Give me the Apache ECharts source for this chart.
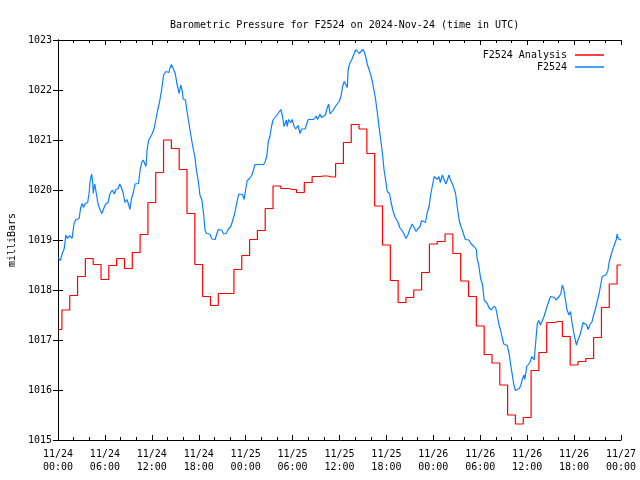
<!DOCTYPE html>
<html><head><meta charset="utf-8">
<script src="https://cdn.jsdelivr.net/npm/echarts@6/dist/echarts.min.js"></script>
<style>html,body{margin:0;padding:0;background:#fff}#c{width:640px;height:480px}</style>
</head><body><div id="c"></div>
<script>
// hours since 2024-11-24 00:00 UTC
const startUTC = Date.UTC(2024, 10, 24, 0, 0);
const analysisHours = [0,1,2,3,4,5,6,7,8,9,10,11,12,13,14,15,16,17,18,19,20,21,22,23,24,25,26,27,28,29,30,31,32,33,34,35,36,37,38,39,40,41,42,43,44,45,46,47,48,49,50,51,52,53,54,55,56,57,58,59,60,61,62,63,64,65,66,67,68,69,70,71,72];
const analysisValues = [1017.21,1017.60,1017.89,1018.27,1018.63,1018.51,1018.21,1018.49,1018.63,1018.43,1018.75,1019.11,1019.75,1020.35,1021.00,1020.83,1020.41,1019.53,1018.51,1017.87,1017.69,1017.93,1017.93,1018.41,1018.69,1019.01,1019.19,1019.63,1020.08,1020.03,1020.01,1019.95,1020.15,1020.27,1020.28,1020.26,1020.53,1020.95,1021.31,1021.22,1020.73,1019.68,1018.90,1018.19,1017.75,1017.85,1018.00,1018.35,1018.92,1018.97,1019.12,1018.73,1018.18,1017.87,1017.28,1016.71,1016.54,1016.10,1015.50,1015.32,1015.45,1016.39,1016.75,1017.35,1017.37,1017.07,1016.50,1016.57,1016.63,1017.05,1017.65,1018.12,1018.50];
const obsHours = [0.0,0.3,0.55,0.8,1.0,1.2,1.5,1.8,2.05,2.3,2.7,2.9,3.1,3.25,3.5,3.8,4.0,4.1,4.3,4.45,4.5,4.7,4.9,5.15,5.4,5.6,5.8,6.1,6.4,6.65,6.95,7.2,7.4,7.7,7.9,8.15,8.35,8.55,8.8,9.0,9.2,9.4,9.6,9.85,10.05,10.3,10.5,10.7,10.9,11.1,11.25,11.4,11.6,12.0,12.3,12.5,12.75,12.95,13.25,13.5,13.8,14.0,14.2,14.3,14.5,14.75,15.0,15.2,15.4,15.5,15.7,15.9,16.0,16.3,16.5,16.75,16.95,17.2,17.5,17.7,17.95,18.15,18.4,18.6,18.8,19.0,19.4,19.7,20.1,20.3,20.5,20.9,21.2,21.5,21.8,22.1,22.3,22.55,22.75,23.0,23.15,23.6,23.8,24.0,24.2,24.5,24.8,25.0,25.2,25.8,26.3,26.5,26.7,26.9,27.1,27.3,27.5,27.75,28.0,28.25,28.5,28.7,28.9,29.2,29.3,29.5,29.75,29.95,30.2,30.4,30.7,30.95,31.15,31.6,32.0,32.4,32.7,33.0,33.2,33.5,33.7,33.9,34.2,34.35,34.6,34.8,35.0,35.2,35.4,35.6,35.95,36.2,36.4,36.6,36.8,37.0,37.1,37.3,37.55,37.8,38.1,38.3,38.5,38.75,39.0,39.2,39.4,39.55,39.8,40.0,40.2,40.4,40.6,40.85,41.05,41.3,41.5,41.7,41.9,42.1,42.4,42.6,42.85,43.1,43.3,43.5,43.7,43.95,44.25,44.5,44.8,45.0,45.3,45.5,45.8,46.0,46.3,46.5,46.7,47.0,47.2,47.45,47.65,47.9,48.1,48.3,48.5,48.7,48.9,49.15,49.4,49.6,49.8,50.0,50.2,50.5,50.6,50.85,51.05,51.3,51.5,51.7,51.9,52.1,52.35,52.55,52.8,53.0,53.2,53.5,53.6,53.8,54.05,54.3,54.5,54.7,54.9,55.1,55.4,55.6,55.8,56.0,56.2,56.4,56.6,56.8,57.0,57.25,57.45,57.7,57.9,58.1,58.3,58.5,58.75,59.0,59.2,59.4,59.6,59.7,59.95,60.15,60.35,60.6,60.8,60.9,61.1,61.3,61.5,61.7,61.9,62.15,62.35,62.6,62.8,63.0,63.2,63.5,63.7,63.9,64.1,64.3,64.5,64.7,64.9,65.1,65.35,65.55,65.7,65.9,66.1,66.3,66.5,66.75,66.95,67.15,67.4,67.6,67.8,68.0,68.3,68.5,68.75,68.95,69.2,69.4,69.6,69.8,70.05,70.3,70.5,70.7,70.9,71.15,71.4,71.5,71.65,71.9,72.0];
const obsValues = [1018.65,1018.59,1018.73,1018.83,1019.10,1019.03,1019.09,1019.03,1019.33,1019.41,1019.43,1019.65,1019.73,1019.65,1019.73,1019.75,1019.97,1020.17,1020.32,1020.13,1019.93,1020.12,1019.93,1019.70,1019.60,1019.53,1019.61,1019.72,1019.75,1019.93,1020.00,1019.92,1020.01,1020.03,1020.12,1020.03,1019.93,1019.75,1019.81,1019.73,1019.61,1019.83,1019.93,1020.12,1020.12,1020.13,1020.40,1020.55,1020.60,1020.60,1020.47,1020.81,1021.00,1021.11,1021.23,1021.40,1021.60,1021.73,1022.00,1022.30,1022.37,1022.40,1022.35,1022.43,1022.51,1022.51,1022.33,1022.13,1022.00,1021.93,1022.10,1021.97,1021.82,1021.80,1021.57,1021.33,1021.13,1020.90,1020.67,1020.40,1020.17,1019.90,1019.80,1019.55,1019.20,1019.13,1019.12,1019.02,1019.01,1019.12,1019.21,1019.20,1019.12,1019.13,1019.22,1019.27,1019.37,1019.50,1019.65,1019.85,1019.92,1019.91,1019.81,1020.01,1020.19,1020.23,1020.30,1020.40,1020.51,1020.51,1020.51,1020.57,1020.68,1020.97,1021.07,1021.27,1021.40,1021.45,1021.50,1021.53,1021.61,1021.48,1021.27,1021.40,1021.27,1021.41,1021.35,1021.41,1021.27,1021.22,1021.29,1021.13,1021.22,1021.22,1021.41,1021.41,1021.41,1021.48,1021.41,1021.52,1021.45,1021.41,1021.50,1021.60,1021.72,1021.52,1021.52,1021.60,1021.63,1021.70,1021.77,1021.88,1022.07,1022.17,1022.20,1022.05,1022.40,1022.53,1022.60,1022.70,1022.81,1022.81,1022.73,1022.72,1022.81,1022.75,1022.63,1022.52,1022.50,1022.30,1022.17,1022.00,1021.83,1021.53,1021.27,1020.97,1020.72,1020.40,1020.20,1019.97,1019.93,1019.75,1019.58,1019.46,1019.42,1019.35,1019.25,1019.20,1019.12,1019.03,1019.12,1019.22,1019.32,1019.30,1019.17,1019.22,1019.27,1019.39,1019.41,1019.35,1019.53,1019.67,1019.90,1020.10,1020.27,1020.30,1020.21,1020.27,1020.15,1020.30,1020.27,1020.12,1020.20,1020.30,1020.20,1020.10,1020.13,1019.93,1019.67,1019.40,1019.28,1019.20,1019.10,1019.01,1018.97,1019.00,1018.93,1018.90,1018.87,1018.81,1018.63,1018.50,1018.23,1018.10,1017.80,1017.79,1017.73,1017.65,1017.60,1017.60,1017.68,1017.63,1017.47,1017.30,1017.20,1017.05,1016.92,1016.90,1016.89,1016.72,1016.50,1016.30,1016.10,1015.99,1015.99,1016.03,1016.10,1016.23,1016.30,1016.21,1016.47,1016.50,1016.55,1016.67,1016.70,1016.60,1016.97,1017.33,1017.39,1017.30,1017.37,1017.47,1017.57,1017.70,1017.79,1017.87,1017.90,1017.85,1017.80,1017.81,1017.87,1017.93,1018.10,1018.00,1017.80,1017.60,1017.50,1017.57,1017.38,1017.20,1017.03,1016.90,1017.00,1017.10,1017.21,1017.35,1017.39,1017.30,1017.21,1017.30,1017.37,1017.50,1017.63,1017.77,1017.93,1018.10,1018.27,1018.30,1018.30,1018.37,1018.57,1018.61,1018.79,1018.80,1019.01,1019.12,1019.03,1019.01,1019.00];
const xTickStepHours = 6;
const yTickMin = 1015, yTickMax = 1023, yTickStep = 1;

const FONT = 'DejaVu Sans Mono';
function pad(n){ return (n < 10 ? '0' : '') + n; }
function fmtHour(h){
  const d = new Date(startUTC + h * 3600000);
  return pad(d.getUTCMonth() + 1) + '/' + pad(d.getUTCDate()) + '\n' + pad(d.getUTCHours()) + ':' + pad(d.getUTCMinutes());
}
const analysisData = analysisHours.map((h, i) => [h, analysisValues[i]]);
const obsData = obsHours.map((h, i) => [h, obsValues[i]]);

const tickCommon = {
  axisLine: { show: true, lineStyle: { color: '#000', width: 1 } },
  axisTick: { show: true, inside: true, length: 5, lineStyle: { color: '#000' } },
  splitLine: { show: false }
};
const legendCommon = {
  orient: 'vertical', right: 31, align: 'right', icon: 'rect',
  itemWidth: 29, itemHeight: 1.5, itemGap: 2,
  textStyle: { fontFamily: FONT, fontSize: 10, color: '#000', padding: [0, 3, 0, 0] }
};
const chart = echarts.init(document.getElementById('c'), null, { renderer: 'canvas' });
chart.setOption({
  animation: false,
  backgroundColor: '#fff',
  title: {
    text: 'Barometric Pressure for F2524 on 2024-Nov-24 (time in UTC)',
    left: 165, top: 14,
    textStyle: { fontFamily: FONT, fontSize: 10, fontWeight: 'normal', color: '#000', lineHeight: 12 }
  },
  legend: [
    Object.assign({}, legendCommon, { data: ['F2524 Analysis'], top: 45 }),
    Object.assign({}, legendCommon, { data: ['F2524'], top: 57 })
  ],
  grid: { left: 58, right: 19, top: 40, bottom: 40, containLabel: false, outerBoundsMode: 'none' },
  xAxis: [
    Object.assign({}, tickCommon, {
      type: 'value', min: 0, max: 72, interval: xTickStepHours, position: 'bottom',
      minorTick: { show: true, splitNumber: 3, length: 3, lineStyle: { color: '#000' } },
      axisLabel: { show: true, formatter: fmtHour, fontFamily: FONT, fontSize: 10, color: '#000', lineHeight: 13, margin: 8, showMaxLabel: true, showMinLabel: true }
    }),
    Object.assign({}, tickCommon, {
      type: 'value', min: 0, max: 72, interval: xTickStepHours, position: 'top',
      minorTick: { show: true, splitNumber: 3, length: 3, lineStyle: { color: '#000' } },
      axisLabel: { show: false }
    })
  ],
  yAxis: [
    Object.assign({}, tickCommon, {
      type: 'value', min: yTickMin, max: yTickMax, interval: yTickStep, position: 'left',
      name: 'milliBars', nameLocation: 'middle', nameGap: 41, nameRotate: 90,
      nameTextStyle: { fontFamily: FONT, fontSize: 10, color: '#000' },
      axisLabel: { fontFamily: FONT, fontSize: 10, color: '#000', margin: 6, formatter: v => String(v) }
    }),
    Object.assign({}, tickCommon, {
      type: 'value', min: yTickMin, max: yTickMax, interval: yTickStep, position: 'right',
      axisLabel: { show: false }
    })
  ],
  series: [
    { name: 'F2524 Analysis', type: 'line', step: 'middle', data: analysisData,
      symbol: 'none', color: '#ff0000', lineStyle: { color: '#ff0000', width: 1.2 } },
    { name: 'F2524', type: 'line', data: obsData,
      symbol: 'none', color: '#0a80ff', lineStyle: { color: '#0a80ff', width: 1.2 } }
  ]
});
</script></body></html>
